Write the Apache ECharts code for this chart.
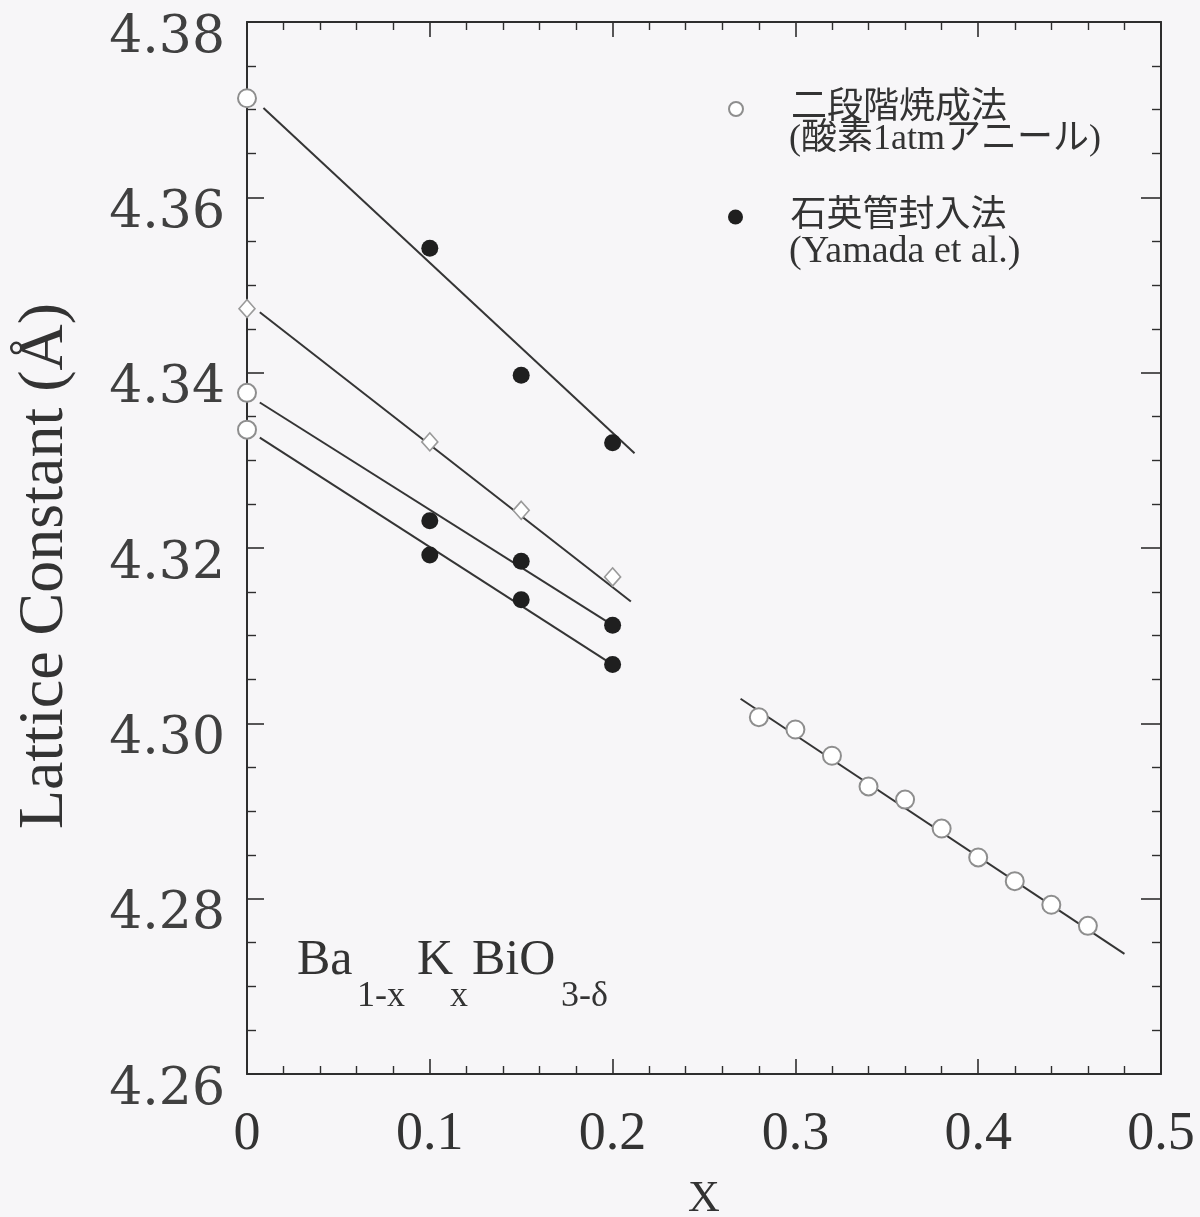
<!DOCTYPE html>
<html>
<head>
<meta charset="utf-8">
<title>Ba1-xKxBiO3-δ lattice constant</title>
<script src="https://cdn.jsdelivr.net/npm/echarts@6/dist/echarts.min.js"></script>
<style>
  html, body { margin: 0; padding: 0; background: #f7f6f8; }
  #chart { width: 1200px; height: 1217px; }
</style>
</head>
<body>
<div id="chart"></div>
<script>
// Two-step sintering, 1 atm O2 anneal (open circles)
const annealX = [0, 0, 0, 0.28, 0.30, 0.32, 0.34, 0.36, 0.38, 0.40, 0.42, 0.44, 0.46];
const annealY = [4.3713, 4.3377, 4.3335, 4.3007, 4.2993, 4.2963, 4.2928, 4.2913, 4.2880, 4.2847, 4.2820, 4.2793, 4.2769];

// Sealed quartz tube method, Yamada et al. (filled circles)
const sealedX = [0.10, 0.15, 0.20, 0.10, 0.15, 0.20, 0.10, 0.15, 0.20];
const sealedY = [4.3542, 4.3397, 4.3320, 4.3231, 4.3185, 4.3112, 4.3192, 4.3141, 4.3067];

// Open diamond series
const diamondX = [0, 0.10, 0.15, 0.20];
const diamondY = [4.3473, 4.3321, 4.3243, 4.3167];

// Guide lines: [x, y] end points
const fitLine1 = [[0.009, 4.3702], [0.212, 4.3308]];
const fitLine2 = [[0.007, 4.3469], [0.210, 4.3139]];
const fitLine3 = [[0.007, 4.3366], [0.200, 4.3112]];
const fitLine4 = [[0.007, 4.3326], [0.200, 4.3067]];
const fitLine5 = [[0.270, 4.3028], [0.480, 4.2737]];

// Axis ranges
const xMin = 0, xMax = 0.5, xStep = 0.1;
const yMin = 4.26, yMax = 4.38, yStep = 0.02;

const legendNames = ['二段階焼成法', '石英管封入法'];
const legendNotes = ['(酸素1atmアニール)', '(Yamada et al.)'];
const axisNameY = 'Lattice Constant (Å)';
const axisNameX = 'X';

const zip = (xs, ys) => xs.map((x, i) => [x, ys[i]]);

const ink = '#2e2e2e';
const serif = '"Liberation Serif", "Times New Roman", serif';
const wideSerif = '"DejaVu Serif", serif';
const jp = '"Liberation Serif", "Noto Sans CJK JP", serif';

function boxAxis(extra) {
  return Object.assign({
    type: 'value',
    axisLine: { show: true, onZero: false, lineStyle: { color: ink, width: 2 } },
    axisTick: { show: true, inside: true, length: 17, lineStyle: { color: ink, width: 1.6 } },
    minorTick: { show: true, length: 9, lineStyle: { color: ink, width: 1.4 } },
    splitLine: { show: false },
    axisLabel: { show: false }
  }, extra);
}

const chart = echarts.init(document.getElementById('chart'), null, { renderer: 'canvas' });

const lineStyle = { color: '#353535', width: 2 };
function guide(name, pts) {
  return {
    name, type: 'line', data: pts, symbol: 'none', z: 2,
    lineStyle, silent: true, animation: false
  };
}

chart.setOption({
  backgroundColor: '#f7f6f8',
  animation: false,
  grid: {
    left: 247, right: 39, top: 22, bottom: 143,
    containLabel: false, outerBoundsMode: 'none'
  },
  xAxis: [
    boxAxis({
      position: 'bottom', min: xMin, max: xMax, interval: xStep,
      minorTick: { show: true, splitNumber: 5, length: 8, lineStyle: { color: ink, width: 1.4 } },
      axisTick: { show: true, inside: true, length: 15, lineStyle: { color: ink, width: 1.6 } },
      axisLabel: {
        show: true, margin: 34, color: '#333', fontFamily: serif, fontSize: 54,
        formatter: v => (v === 0 ? '0' : v.toFixed(1))
      },
      name: axisNameX, nameLocation: 'middle', nameGap: 103,
      nameTextStyle: { fontFamily: serif, fontSize: 44, color: '#333' }
    }),
    boxAxis({
      position: 'top', min: xMin, max: xMax, interval: xStep,
      minorTick: { show: true, splitNumber: 5, length: 8, lineStyle: { color: ink, width: 1.4 } },
      axisTick: { show: true, inside: true, length: 15, lineStyle: { color: ink, width: 1.6 } }
    })
  ],
  yAxis: [
    boxAxis({
      position: 'left', min: yMin, max: yMax, interval: yStep,
      minorTick: { show: true, splitNumber: 4, length: 9, lineStyle: { color: ink, width: 1.4 } },
      axisLabel: {
        show: true, margin: 22, color: '#404040', fontFamily: wideSerif, fontSize: 52,
        verticalAlign: 'top', lineHeight: 32,
        formatter: v => v.toFixed(2)
      },
      name: axisNameY, nameLocation: 'middle', nameGap: 170,
      nameTextStyle: { fontFamily: serif, fontSize: 64, color: '#333', padding: [0, 36, 0, 0] }
    }),
    boxAxis({
      position: 'right', min: yMin, max: yMax, interval: yStep,
      minorTick: { show: true, splitNumber: 4, length: 9, lineStyle: { color: ink, width: 1.4 } },
      axisTick: { show: true, inside: true, length: 20, lineStyle: { color: ink, width: 1.6 } }
    })
  ],
  legend: [
    {
      data: [legendNames[0]], icon: 'circle', left: 723, top: 86,
      itemWidth: 100, itemHeight: 14, itemGap: 0, selectedMode: false,
      textStyle: { fontFamily: jp, fontSize: 36, color: '#333' }
    },
    {
      data: [legendNames[1]], icon: 'circle', left: 723, top: 194,
      itemWidth: 100, itemHeight: 15, itemGap: 0, selectedMode: false,
      textStyle: { fontFamily: jp, fontSize: 36, color: '#333' }
    }
  ],
  graphic: [
    { type: 'text', left: 789, top: 122, silent: true,
      style: { text: legendNotes[0], font: '36px ' + jp, fill: '#333' } },
    { type: 'text', left: 789, top: 233, silent: true,
      style: { text: legendNotes[1], font: '38px ' + serif, fill: '#333' } },
    // compound formula Ba1-xKxBiO3-δ
    { type: 'text', left: 297, top: 936, silent: true,
      style: { text: 'Ba', font: '50px ' + serif, fill: '#333' } },
    { type: 'text', left: 357, top: 979, silent: true,
      style: { text: '1-x', font: '36px ' + serif, fill: '#333' } },
    { type: 'text', left: 417, top: 936, silent: true,
      style: { text: 'K', font: '50px ' + serif, fill: '#333' } },
    { type: 'text', left: 450, top: 979, silent: true,
      style: { text: 'x', font: '36px ' + serif, fill: '#333' } },
    { type: 'text', left: 472, top: 936, silent: true,
      style: { text: 'BiO', font: '50px ' + serif, fill: '#333' } },
    { type: 'text', left: 561, top: 979, silent: true,
      style: { text: '3-δ', font: '36px ' + serif, fill: '#333' } }
  ],
  series: [
    guide('fit1', fitLine1),
    guide('fit2', fitLine2),
    guide('fit3', fitLine3),
    guide('fit4', fitLine4),
    guide('fit5', fitLine5),
    {
      name: 'diamond', type: 'scatter', data: zip(diamondX, diamondY), z: 3, clip: false,
      symbol: 'diamond', symbolSize: [16, 18],
      itemStyle: { color: '#ffffff', borderColor: '#9a9a9a', borderWidth: 1.6, opacity: 1 }
    },
    {
      name: legendNames[0], type: 'scatter', data: zip(annealX, annealY), z: 3, clip: false,
      symbol: 'circle', symbolSize: 18,
      itemStyle: { color: '#ffffff', borderColor: '#8e8e8e', borderWidth: 2, opacity: 1 }
    },
    {
      name: legendNames[1], type: 'scatter', data: zip(sealedX, sealedY), z: 3, clip: false,
      symbol: 'circle', symbolSize: 17,
      itemStyle: { color: '#1f1f1f', opacity: 1 }
    }
  ]
});
</script>
</body>
</html>
